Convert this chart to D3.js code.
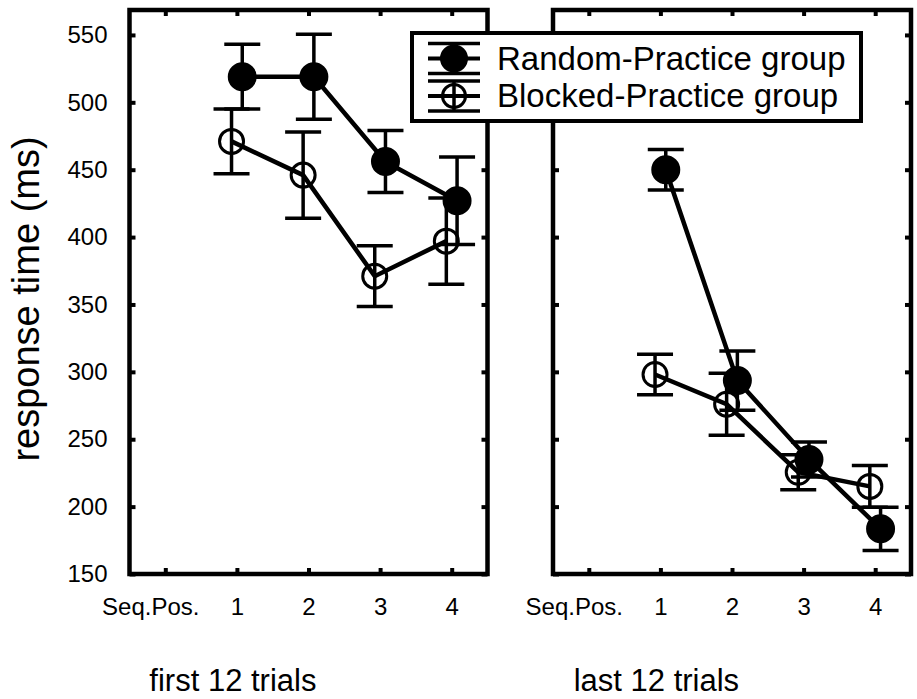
<!DOCTYPE html>
<html>
<head>
<meta charset="utf-8">
<script src="https://d3js.org/d3.v7.min.js"></script>
<style>
body { margin: 0; background: #fff; }
text { font-family: "Liberation Sans", Arial, sans-serif; fill: #000; }
</style>
</head>
<body>
<svg id="chart" width="917" height="699"></svg>
<script>
var positions = [1, 2, 3, 4]
var xTickValues = [0, 1, 2, 3, 4]
var xTickLabels = ["Seq.Pos.", "1", "2", "3", "4"]
var yTickValues = [150, 200, 250, 300, 350, 400, 450, 500, 550]

var panelTitles = ["first 12 trials", "last 12 trials"]
var seriesNames = ["Random-Practice group", "Blocked-Practice group"]

// first 12 trials
var randomFirst = [519, 519, 456, 427]
var randomFirstErr = [24, 31.5, 23, 32.5]
var blockedFirst = [471, 446, 371, 397]
var blockedFirstErr = [24, 32, 22.5, 32]

// last 12 trials
var randomLast = [450, 293.5, 235, 183.5]
var randomLastErr = [15, 22, 13, 16]
var blockedLast = [298, 276, 225.5, 215]
var blockedLastErr = [15, 23, 13, 15.5]

var svg = d3.select("#chart")

var plotTop = 10, plotBottom = 574
var y = d3.scaleLinear().domain([150, 568.5]).range([plotBottom, plotTop])

var panels = [
    {x0: 129.5, x1: 487.5, title: panelTitles[0], labels: true,
     series: [
        {name: seriesNames[1], vals: blockedFirst, err: blockedFirstErr, filled: false, shift: -0.075},
        {name: seriesNames[0], vals: randomFirst, err: randomFirstErr, filled: true, shift: 0.075}
     ]},
    {x0: 553, x1: 911, title: panelTitles[1], labels: false,
     series: [
        {name: seriesNames[1], vals: blockedLast, err: blockedLastErr, filled: false, shift: -0.075},
        {name: seriesNames[0], vals: randomLast, err: randomLastErr, filled: true, shift: 0.075}
     ]}
]

panels.forEach(function(p){
    var x = d3.scaleLinear().domain([-0.5, 4.5]).range([p.x0, p.x1])
    var g = svg.append("g")

    // ticks on all four sides, pointing inward
    var bx = g.append("g").attr("transform", "translate(0," + plotBottom + ")")
        .call(d3.axisBottom(x).tickValues(xTickValues).tickSize(-6).tickPadding(24)
            .tickFormat(function(d, i){ return xTickLabels[i] }))
    bx.selectAll("text").style("font-size", "24px")
        .attr("dx", function(d){ return d == 0 ? -15 : 0 })
    g.append("g").attr("transform", "translate(0," + plotTop + ")")
        .call(d3.axisTop(x).tickValues(xTickValues).tickSize(-6).tickFormat(""))
    var ly = g.append("g").attr("transform", "translate(" + p.x0 + ",0)")
        .call(d3.axisLeft(y).tickValues(yTickValues).tickSize(-6).tickPadding(22)
            .tickFormat(p.labels ? d3.format("d") : ""))
    ly.selectAll("text").style("font-size", "24px")
    g.append("g").attr("transform", "translate(" + p.x1 + ",0)")
        .call(d3.axisRight(y).tickValues(yTickValues).tickSize(-6).tickFormat(""))

    g.selectAll(".domain").remove()
    g.selectAll(".tick line").attr("stroke", "#000").attr("stroke-width", 4)

    g.append("rect")
        .attr("x", p.x0).attr("y", plotTop)
        .attr("width", p.x1 - p.x0).attr("height", plotBottom - plotTop)
        .attr("fill", "none").attr("stroke", "#000").attr("stroke-width", 4.5)

    var line = d3.line()
        .x(function(d){ return x(d.pos) })
        .y(function(d){ return y(d.v) })

    p.series.forEach(function(s){
        var pts = positions.map(function(pos, i){
            return {pos: pos + s.shift, v: s.vals[i], e: s.err[i]}
        })
        var sg = g.append("g")
        sg.append("path").datum(pts)
            .attr("d", line)
            .attr("fill", "none").attr("stroke", "#000").attr("stroke-width", 4.5)

        var eb = sg.selectAll(".eb").data(pts).enter().append("g")
        eb.append("line")
            .attr("x1", function(d){ return x(d.pos) }).attr("x2", function(d){ return x(d.pos) })
            .attr("y1", function(d){ return y(d.v + d.e) }).attr("y2", function(d){ return y(d.v - d.e) })
            .attr("stroke", "#000").attr("stroke-width", 3.5)
        eb.append("line")
            .attr("x1", function(d){ return x(d.pos) - 18 }).attr("x2", function(d){ return x(d.pos) + 18 })
            .attr("y1", function(d){ return y(d.v + d.e) }).attr("y2", function(d){ return y(d.v + d.e) })
            .attr("stroke", "#000").attr("stroke-width", 3.5)
        eb.append("line")
            .attr("x1", function(d){ return x(d.pos) - 18 }).attr("x2", function(d){ return x(d.pos) + 18 })
            .attr("y1", function(d){ return y(d.v - d.e) }).attr("y2", function(d){ return y(d.v - d.e) })
            .attr("stroke", "#000").attr("stroke-width", 3.5)

        sg.selectAll("circle").data(pts).enter().append("circle")
            .attr("cx", function(d){ return x(d.pos) })
            .attr("cy", function(d){ return y(d.v) })
            .attr("r", s.filled ? 13 : 12)
            .attr("fill", s.filled ? "#000" : "none")
            .attr("stroke", "#000").attr("stroke-width", 3)
    })

    svg.append("text")
        .attr("x", x(1) - 4).attr("y", 691)
        .attr("text-anchor", "middle")
        .style("font-size", "31px")
        .text(p.title)
})

// y axis title
svg.append("text")
    .attr("transform", "translate(39,299) rotate(-90)")
    .attr("text-anchor", "middle")
    .style("font-size", "38px")
    .text("response time (ms)")

// legend
var lg = svg.append("g")
lg.append("rect")
    .attr("x", 412).attr("y", 33).attr("width", 449).attr("height", 88)
    .attr("fill", "#fff").attr("stroke", "#000").attr("stroke-width", 4)

var legendRows = [
    {name: seriesNames[0], filled: true, cy: 58.5},
    {name: seriesNames[1], filled: false, cy: 96}
]
legendRows.forEach(function(r){
    var cx = 454
    lg.append("line").attr("x1", cx - 26).attr("x2", cx + 26).attr("y1", r.cy).attr("y2", r.cy)
        .attr("stroke", "#000").attr("stroke-width", 4)
    lg.append("line").attr("x1", cx - 26).attr("x2", cx + 26).attr("y1", r.cy - 15).attr("y2", r.cy - 15)
        .attr("stroke", "#000").attr("stroke-width", 3.5)
    lg.append("line").attr("x1", cx - 26).attr("x2", cx + 26).attr("y1", r.cy + 15).attr("y2", r.cy + 15)
        .attr("stroke", "#000").attr("stroke-width", 3.5)
    lg.append("line").attr("x1", cx).attr("x2", cx).attr("y1", r.cy - 15).attr("y2", r.cy + 15)
        .attr("stroke", "#000").attr("stroke-width", 3.5)
    lg.append("circle").attr("cx", cx).attr("cy", r.cy).attr("r", r.filled ? 12.5 : 11.5)
        .attr("fill", r.filled ? "#000" : "none").attr("stroke", "#000").attr("stroke-width", 3)
    lg.append("text").attr("x", 497).attr("y", r.cy + 11)
        .style("font-size", "33px")
        .text(r.name)
})
</script>
</body>
</html>
